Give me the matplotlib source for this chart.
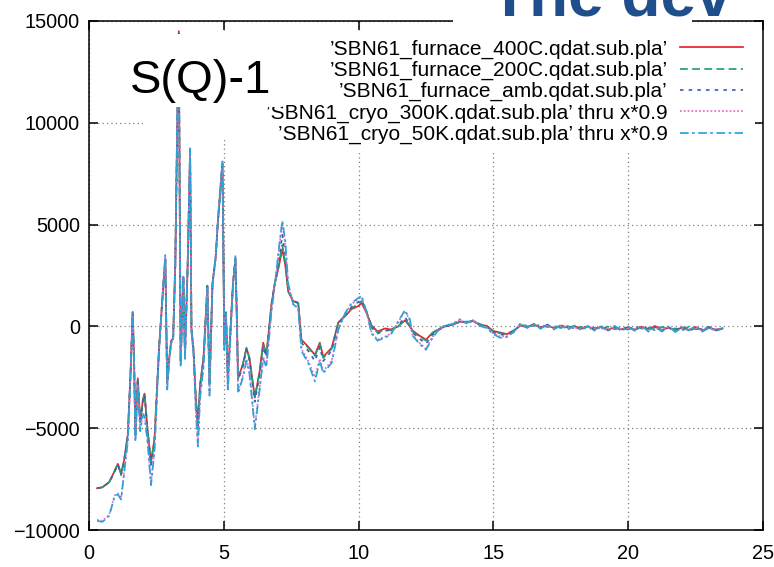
import matplotlib
matplotlib.use("Agg")
import matplotlib.pyplot as plt
from matplotlib.patches import Rectangle

plt.rcParams['font.family'] = ['Liberation Sans', 'DejaVu Sans']

# Q grid (1/A) shared by all five S(Q)-1 curves
q = [0.30, 0.50, 0.75, 0.95, 1.07, 1.19, 1.30, 1.44, 1.55, 1.62,
     1.67, 1.72, 1.81, 1.90, 2.00, 2.06, 2.18, 2.30, 2.43, 2.60,
     2.74, 2.83, 2.90, 2.98, 3.05, 3.12, 3.20, 3.28, 3.33, 3.40,
     3.50, 3.56, 3.66, 3.75, 3.80, 3.88, 3.96, 4.04, 4.12, 4.25,
     4.39, 4.47, 4.58, 4.70, 4.78, 4.95, 5.02, 5.08, 5.15, 5.34,
     5.43, 5.48, 5.53, 5.71, 5.84, 5.95, 6.15, 6.33, 6.46, 6.58,
     6.77, 6.89, 7.05, 7.17, 7.28, 7.39, 7.57, 7.76, 7.88, 8.13,
     8.38, 8.56, 8.69, 9.00, 9.25, 9.50, 9.74, 9.99, 10.11, 10.30,
     10.48, 10.70, 10.98, 11.20, 11.47, 11.72, 11.90,
     12.00, 12.25, 12.50, 12.75, 13.00, 13.25, 13.50, 13.75,
     14.00, 14.25, 14.50, 14.75, 15.00, 15.25, 15.50, 15.75,
     16.00, 16.25, 16.50, 16.75, 17.00, 17.25, 17.50, 17.75,
     18.00, 18.25, 18.50, 18.75, 19.00, 19.25, 19.50, 19.75,
     20.00, 20.25, 20.50, 20.75, 21.00, 21.25, 21.50, 21.75,
     22.00, 22.25, 22.50, 22.75, 23.00, 23.25, 23.50]

furnace_400c = [-7950, -7900, -7650, -7100, -6750, -7250, -6600, -5300, -2000, 700,
                -1500, -5300, -2550, -4700, -3600, -3300, -5200, -6700, -5500, -1000,
                1700, 3300, -2800, -1500, -700, -600, 3000, 10500, 14500, -1700,
                2400, -1400, 3000, 8600, -100, -1200, -3500, -4800, -2900, -1500,
                2000, -2800, 2100, 3400, 5100, 8000, -900, 700, -2550, 2100,
                3300, 700, -2550, -1850, -1050, -1550, -3500, -2200, -800, -1400,
                1100, 2100, 3000, 3800, 3000, 1700, 1250, 1150, -650, -1000,
                -1400, -800, -1500, -1050, 200, 500, 850, 1000, 1150, 650,
                50, -250, -100, -150, 0, 300, 0,
                -200, -450, -650, -300, -120, 20, 80, 230,
                200, 260, 80, 30, -230, -300, -380, -220,
                40, -20, 90, -40, 60, -90, 40, -60,
                10, -120, 0, -140, -20, -160, -40, -150,
                -30, -170, -20, -130, 20, -180, -60, -200,
                -50, -170, -30, -190, -70, -160, -90]

furnace_200c = [-7950, -7900, -7650, -7100, -6750, -7250, -6600, -5300, -2000, 700,
                -1500, -5300, -2550, -4700, -3600, -3300, -5200, -6700, -5500, -1000,
                1700, 3300, -2800, -1500, -700, -600, 3000, 10500, 14400, -1700,
                2400, -1400, 3000, 8600, -100, -1200, -3500, -4800, -2900, -1500,
                2000, -2800, 2100, 3400, 5100, 8000, -900, 700, -2550, 2100,
                3300, 700, -2550, -1850, -1100, -1550, -3500, -2250, -900, -1400,
                1100, 2100, 3100, 4000, 3100, 1750, 1250, 1150, -700, -1050,
                -1450, -850, -1550, -1100, 200, 550, 900, 1100, 1250, 700,
                0, -300, -150, -200, 0, 350, 50,
                -250, -500, -700, -320, -100, 40, 120, 200,
                240, 220, 120, -10, -260, -340, -360, -200,
                60, 40, 20, 70, -30, 30, -80, 20,
                -100, -20, -140, -60, -120, -10, -140, -80,
                -160, 0, -110, -60, -190, -20, -150, -100,
                -200, -10, -140, -120, -60, -170, -110]

furnace_amb = [-7950, -7900, -7650, -7150, -6800, -7300, -6650, -5350, -2000, 700,
               -1500, -5350, -2600, -4750, -3650, -3350, -5300, -6800, -5600, -1050,
               1700, 3350, -2850, -1550, -750, -650, 3000, 10500, 14400, -1750,
               2400, -1450, 3000, 8650, -150, -1250, -3600, -4900, -3000, -1550,
               2000, -2900, 2100, 3400, 5100, 8050, -950, 650, -2650, 2100,
               3350, 650, -2650, -1950, -1150, -1650, -3700, -2400, -1000, -1500,
               1050, 2100, 3300, 4500, 3500, 1800, 1250, 1150, -800, -1200,
               -1700, -1000, -1700, -1200, 150, 550, 950, 1200, 1300, 700,
               -50, -350, -200, -200, 50, 450, 100,
               -300, -600, -850, -400, -150, 0, 150, 250,
               180, 300, 60, 0, -300, -400, -420, -250,
               80, -60, 120, -80, 90, -120, 60, -100,
               30, -160, 10, -180, 0, -200, -20, -170,
               -10, -210, 30, -150, -40, -230, -60, -200,
               10, -220, -80, -150, -20, -200, -100]

cryo_300k = [-9500, -9550, -9250, -8300, -8200, -8450, -7200, -5600, -2100, 650,
             -1700, -5600, -2900, -5100, -4300, -4300, -5700, -7700, -6000, -1100,
             1700, 3400, -3000, -1600, -800, -700, 3100, 10700, 14300, -1900,
             2450, -1550, 3100, 8700, -200, -1400, -4000, -5800, -3400, -1900,
             1900, -3300, 2000, 3500, 5200, 8100, -1100, 600, -3100, 2000,
             3400, 600, -3200, -2400, -1600, -2200, -4900, -3000, -1500, -1900,
             800, 2000, 3800, 5100, 4000, 2000, 1100, 900, -1100, -1700,
             -2500, -1600, -2200, -1700, -100, 600, 1100, 1350, 1450, 650,
             -300, -650, -500, -350, 200, 750, 300,
             -400, -800, -1100, -500, -150, 50, 150, 300,
             200, 280, 50, -50, -350, -500, -480, -300,
             100, 0, 60, -60, 40, -100, 20, -50,
             -60, -130, -20, -110, -90, -150, -30, -140,
             -100, -120, -60, -200, -80, -160, -40, -230,
             -120, -180, -50, -210, -110, -140, -130]

cryo_50k = [-9550, -9600, -9300, -8350, -8250, -8500, -7250, -5650, -2100, 700,
            -1700, -5650, -2950, -5150, -4350, -4400, -5800, -7800, -6100, -1150,
            1750, 3500, -3100, -1650, -800, -700, 3100, 10800, 14300, -2000,
            2500, -1600, 3100, 8750, -250, -1450, -4100, -5900, -3500, -2000,
            1900, -3400, 2000, 3500, 5250, 8150, -1150, 600, -3200, 2000,
            3450, 550, -3300, -2500, -1700, -2300, -5050, -3100, -1600, -2000,
            750, 2000, 3900, 5200, 4200, 2100, 1100, 850, -1200, -1800,
            -2700, -1700, -2300, -1800, -150, 650, 1150, 1400, 1500, 700,
            -350, -700, -550, -400, 250, 800, 350,
            -450, -850, -1150, -550, -100, 80, 100, 350,
            150, 320, 20, -80, -380, -560, -520, -280,
            150, -80, 130, -120, 100, -150, 70, -170,
            40, -190, 20, -210, -20, -230, 30, -240,
            -10, -220, 40, -260, -30, -250, 0, -280,
            -40, -200, 20, -260, -60, -220, -120]

labels = ["\u2019SBN61_furnace_400C.qdat.sub.pla\u2019",
          "\u2019SBN61_furnace_200C.qdat.sub.pla\u2019",
          "\u2019SBN61_furnace_amb.qdat.sub.pla\u2019",
          "\u2019SBN61_cryo_300K.qdat.sub.pla\u2019 thru x*0.9",
          "\u2019SBN61_cryo_50K.qdat.sub.pla\u2019 thru x*0.9"]

x_ticks = [0, 5, 10, 15, 20, 25]
y_ticks = [-10000, -5000, 0, 5000, 10000, 15000]

series = [furnace_400c, furnace_200c, furnace_amb, cryo_300k, cryo_50k]
colors = ['#e8242c', '#23a070', '#3f5fb0', '#e46cc0', '#2aa4d8']
styles = ['-', (0, (4.5, 2.5)), (0, (2, 3)), (0, (1, 1.2)), (0, (5, 2, 1.5, 2))]

fig = plt.figure(figsize=(7.74, 5.67), dpi=100)
ax = fig.add_axes([89 / 774, 1 - 530 / 567, (763 - 89) / 774, (530 - 21) / 567])

handles = []
for ys, col, ls, lab in zip(series, colors, styles, labels):
    h, = ax.plot(q, ys, color=col, linestyle=ls, linewidth=1.25, label=lab, zorder=2)
    handles.append(h)

ax.set_xlim(0, 25)
ax.set_ylim(-10000, 15000)
ax.set_xticks(x_ticks)
ax.set_yticks(y_ticks)
ax.set_axisbelow(True)
ax.grid(True, color='#808080', linestyle=(0, (1, 2.5)), linewidth=0.9)
ax.tick_params(direction='in', length=6.5, width=1.1, top=True, right=True,
               labelsize=14.3, colors='black')
ax.tick_params(axis='y', pad=6.5)
ax.tick_params(axis='x', pad=10)
for sp in ax.spines.values():
    sp.set_linewidth(1.1)

# key area: blanks the grid but keeps the curves on top
ax.add_patch(Rectangle((0.080, 0.766), 0.908, 0.214, transform=ax.transAxes,
                       facecolor='white', edgecolor='none', zorder=1))

ax.legend(handles=handles, loc='upper right', bbox_to_anchor=(0.979, 0.976),
          markerfirst=False, frameon=True, fancybox=False, edgecolor='none',
          facecolor='white', framealpha=1, fontsize=15, handlelength=3.0,
          handletextpad=0.6, labelspacing=0.1, borderpad=0.3, borderaxespad=0)

# white panel under the S(Q)-1 label
fig.add_artist(Rectangle((122 / 774, 1 - 107 / 567), (282 - 122) / 774, (107 - 34) / 567,
                         transform=fig.transFigure, facecolor='white',
                         edgecolor='none', zorder=5))
fig.text(201 / 774, 1 - 93 / 567, 'S(Q)-1', fontsize=34, ha='center', va='baseline',
         zorder=6)

fig.add_artist(Rectangle((453 / 774, 1 - 34 / 567), (692 - 453) / 774, 34 / 567,
                         transform=fig.transFigure, facecolor='white',
                         edgecolor='none', zorder=3))
fig.text(490 / 774, 1 - 15 / 567, 'The dev', fontsize=46, fontweight='bold',
         color='#1f4e8c', va='baseline', zorder=4)

fig.savefig('out.png', dpi=100)
